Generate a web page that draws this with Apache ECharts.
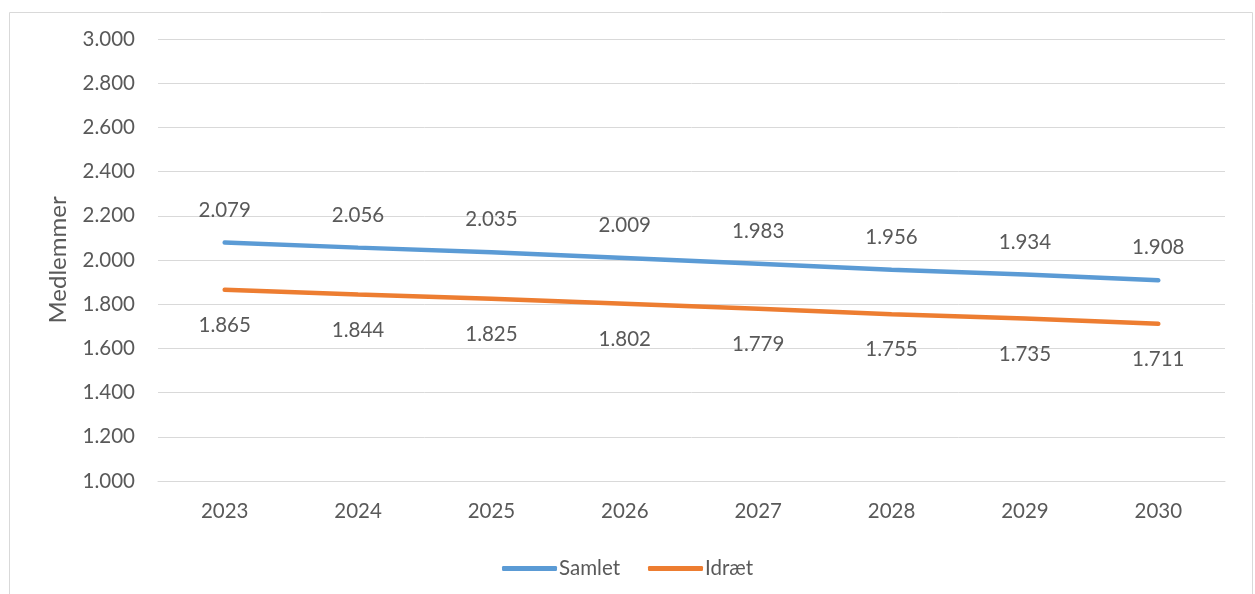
<!DOCTYPE html>
<html>
<head>
<meta charset="utf-8">
<script src="https://cdn.jsdelivr.net/npm/echarts@6/dist/echarts.min.js"></script>
<style>html,body{margin:0;padding:0;background:#fff}#c{width:1255px;height:594px}</style>
</head>
<body>
<div id="c"></div>
<script>
const categories = ['2023','2024','2025','2026','2027','2028','2029','2030'];
const samlet = [2079, 2056, 2035, 2009, 1983, 1956, 1934, 1908];
const idraet = [1865, 1844, 1825, 1802, 1779, 1755, 1735, 1711];
const seriesNames = ['Samlet', 'Idræt'];
const yAxisName = 'Medlemmer';

const fmt = v => {
  const s = String(Math.round(v));
  return s.length > 3 ? s.slice(0, s.length - 3) + '.' + s.slice(-3) : s;
};
const font = 'Lato, "Open Sans", sans-serif';
const txt = '#595959';
const fs = 20.5;

const chart = echarts.init(document.getElementById('c'), null, {renderer: 'canvas'});
chart.setOption({
  animation: false,
  textStyle: {fontFamily: font},
  graphic: [{
    type: 'rect', left: 7, top: 10,
    shape: {width: 1243, height: 600},
    style: {fill: 'none', stroke: '#D9D9D9', lineWidth: 1}
  }],
  grid: {left: 158, right: 30, top: 39, bottom: 113},
  legend: {
    top: 553, left: 'center', itemWidth: 55, itemHeight: 5, itemGap: 28,
    icon: 'roundRect',
    textStyle: {color: txt, fontSize: fs, fontFamily: font, padding: [0, 0, 0, -3]},
    data: seriesNames
  },
  xAxis: {
    type: 'category', data: categories,
    axisLine: {lineStyle: {color: '#D9D9D9'}},
    axisTick: {show: false},
    axisLabel: {color: txt, fontSize: fs, margin: 20, fontFamily: font}
  },
  yAxis: {
    type: 'value', min: 1000, max: 3000, interval: 200,
    name: yAxisName, nameLocation: 'middle', nameGap: 88,
    nameTextStyle: {color: txt, fontSize: 24, fontFamily: font},
    axisLine: {show: false}, axisTick: {show: false},
    axisLabel: {color: txt, fontSize: fs, margin: 23, formatter: fmt, fontFamily: font},
    splitLine: {lineStyle: {color: '#D9D9D9', width: 1}}
  },
  series: [
    {
      name: seriesNames[0], type: 'line', data: samlet, symbol: 'circle', symbolSize: 0, showSymbol: true,
      lineStyle: {color: '#5B9BD5', width: 4.5, cap: 'round'},
      itemStyle: {color: '#5B9BD5'},
      label: {show: true, position: 'top', distance: 22, color: txt, fontSize: fs, formatter: p => fmt(p.value), fontFamily: font}
    },
    {
      name: seriesNames[1], type: 'line', data: idraet, symbol: 'circle', symbolSize: 0, showSymbol: true,
      lineStyle: {color: '#ED7D31', width: 4.5, cap: 'round'},
      itemStyle: {color: '#ED7D31'},
      label: {show: true, position: 'bottom', distance: 25, color: txt, fontSize: fs, formatter: p => fmt(p.value), fontFamily: font}
    }
  ]
});
</script>
</body>
</html>
